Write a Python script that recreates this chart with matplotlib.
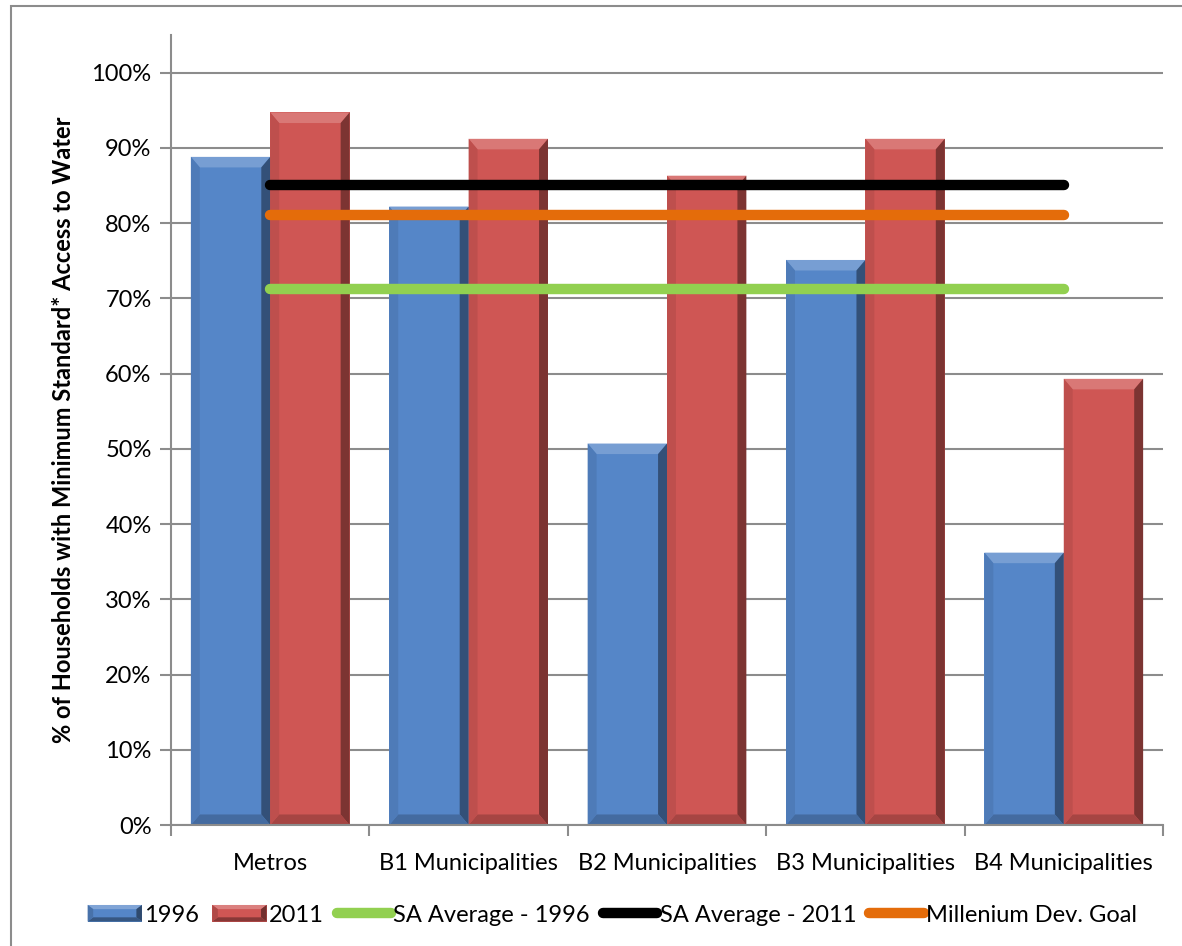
import matplotlib
matplotlib.use("Agg")
import matplotlib.pyplot as plt
from matplotlib.patches import Polygon, Rectangle
from matplotlib.lines import Line2D
from matplotlib.legend_handler import HandlerBase
from matplotlib.ticker import MultipleLocator, PercentFormatter
import numpy as np

categories = ["Metros", "B1 Municipalities", "B2 Municipalities",
              "B3 Municipalities", "B4 Municipalities"]
access_1996 = [0.888, 0.822, 0.507, 0.751, 0.362]
access_2011 = [0.947, 0.912, 0.863, 0.912, 0.593]
sa_avg_1996 = [0.713, 0.713, 0.713, 0.713, 0.713]
sa_avg_2011 = [0.851, 0.851, 0.851, 0.851, 0.851]
mdg_goal = [0.811, 0.811, 0.811, 0.811, 0.811]

BLUE = "#5586C8"
RED = "#CF5654"
GREEN = "#92D050"
BLACK = "#000000"
ORANGE = "#E46C0A"
FS = 17

plt.rcParams["font.family"] = ["Lato", "DejaVu Sans"]

fig = plt.figure(figsize=(11.82, 9.46), dpi=100)
ax = fig.add_axes([0.1447, 0.1279, 0.8392, 0.8351])

# outer chart frame (left and top edges visible)
fig.patches.append(Rectangle((11 / 1182, -0.05), 1.2, 1 - 6 / 946 + 0.05,
                             transform=fig.transFigure, fill=False,
                             edgecolor="#8c8c8c", linewidth=1.5, zorder=0))


def shade(color, f):
    c = np.array(matplotlib.colors.to_rgb(color))
    if f >= 0:
        c = c + (1 - c) * f
    else:
        c = c * (1 + f)
    return tuple(np.clip(c, 0, 1))


def bevel(axes, x0, w, h, color, bx=0.045, by=0.014, z=2):
    y0 = 0.0
    by = min(by, h / 4)
    faces = [
        ([(x0, y0 + h), (x0 + w, y0 + h), (x0 + w - bx, y0 + h - by), (x0 + bx, y0 + h - by)], 0.2),
        ([(x0 + w, y0 + h), (x0 + w, y0), (x0 + w - bx, y0 + by), (x0 + w - bx, y0 + h - by)], -0.4),
        ([(x0, y0), (x0 + w, y0), (x0 + w - bx, y0 + by), (x0 + bx, y0 + by)], -0.2),
        ([(x0, y0), (x0, y0 + h), (x0 + bx, y0 + h - by), (x0 + bx, y0 + by)], -0.08),
    ]
    for pts, f in faces:
        axes.add_patch(Polygon(pts, closed=True, facecolor=shade(color, f),
                               edgecolor="none", zorder=z + 0.1))


x = np.arange(len(categories))
width = 0.4
bars96 = ax.bar(x - width / 2, access_1996, width, color=BLUE, zorder=2, linewidth=0)
bars11 = ax.bar(x + width / 2, access_2011, width, color=RED, zorder=2, linewidth=0)
for bars, col in ((bars96, BLUE), (bars11, RED)):
    for b in bars:
        bevel(ax, b.get_x(), b.get_width(), b.get_height(), col)

lw = 7.5
ax.plot(x, sa_avg_1996, color=GREEN, lw=lw, solid_capstyle="round", zorder=4)
ax.plot(x, sa_avg_2011, color=BLACK, lw=lw, solid_capstyle="round", zorder=4)
ax.plot(x, mdg_goal, color=ORANGE, lw=lw, solid_capstyle="round", zorder=4)

ax.set_xlim(-0.5, len(categories) - 0.5)
ax.set_ylim(0, 1.05)
ax.yaxis.set_major_locator(MultipleLocator(0.1))
ax.yaxis.set_major_formatter(PercentFormatter(1.0, decimals=0))
ax.grid(axis="y", color="#8c8c8c", linewidth=1.5, zorder=0)
ax.set_axisbelow(True)
for s in ("top", "right"):
    ax.spines[s].set_visible(False)
for s in ("left", "bottom"):
    ax.spines[s].set_color("#8c8c8c")
    ax.spines[s].set_linewidth(1.5)

ax.set_xticks(np.arange(len(categories) + 1) - 0.5)
ax.set_xticklabels([])
ax.set_xticks(x, minor=True)
ax.set_xticklabels(categories, minor=True, fontsize=FS)
ax.tick_params(axis="x", which="minor", length=0, pad=20)
ax.tick_params(axis="x", which="major", length=8, width=1.5, color="#8c8c8c", direction="out")
ax.tick_params(axis="y", length=8, width=1.5, color="#8c8c8c", direction="out",
               labelsize=FS, pad=6)

ax.set_ylabel("% of Households with Minimum Standard* Access to Water",
              fontsize=FS, fontweight="bold", labelpad=12)


class BevelHandler(HandlerBase):
    def create_artists(self, legend, orig_handle, xdescent, ydescent,
                       width, height, fontsize, trans):
        col = orig_handle.get_facecolor()
        h = height * 1.0
        y0 = -ydescent + (height - h) / 2
        x0 = -xdescent
        arts = [Rectangle((x0, y0), width, h, facecolor=col, edgecolor="none")]
        bx, by = 4, 3
        faces = [
            ([(x0, y0 + h), (x0 + width, y0 + h), (x0 + width - bx, y0 + h - by), (x0 + bx, y0 + h - by)], 0.25),
            ([(x0 + width, y0 + h), (x0 + width, y0), (x0 + width - bx, y0 + by), (x0 + width - bx, y0 + h - by)], -0.45),
            ([(x0, y0), (x0 + width, y0), (x0 + width - bx, y0 + by), (x0 + bx, y0 + by)], -0.35),
            ([(x0, y0), (x0, y0 + h), (x0 + bx, y0 + h - by), (x0 + bx, y0 + by)], -0.15),
        ]
        for pts, f in faces:
            arts.append(Polygon(pts, closed=True, facecolor=shade(col, f), edgecolor="none"))
        for a in arts:
            a.set_transform(trans)
        return arts


handles = [
    Rectangle((0, 0), 1, 1, facecolor=BLUE),
    Rectangle((0, 0), 1, 1, facecolor=RED),
    Line2D([], [], color=GREEN, lw=lw, solid_capstyle="round"),
    Line2D([], [], color=BLACK, lw=lw, solid_capstyle="round"),
    Line2D([], [], color=ORANGE, lw=lw, solid_capstyle="round"),
]
labels = ["1996", "2011", "SA Average - 1996", "SA Average - 2011", "Millenium Dev. Goal"]
fig.legend(handles, labels, loc="center", bbox_to_anchor=(0.518, 1 - 915 / 946),
           ncol=5, frameon=False, fontsize=FS, handlelength=2.3,
           handletextpad=0.1, columnspacing=0.55,
           handler_map={Rectangle: BevelHandler()})

fig.savefig("out.png", dpi=100)
